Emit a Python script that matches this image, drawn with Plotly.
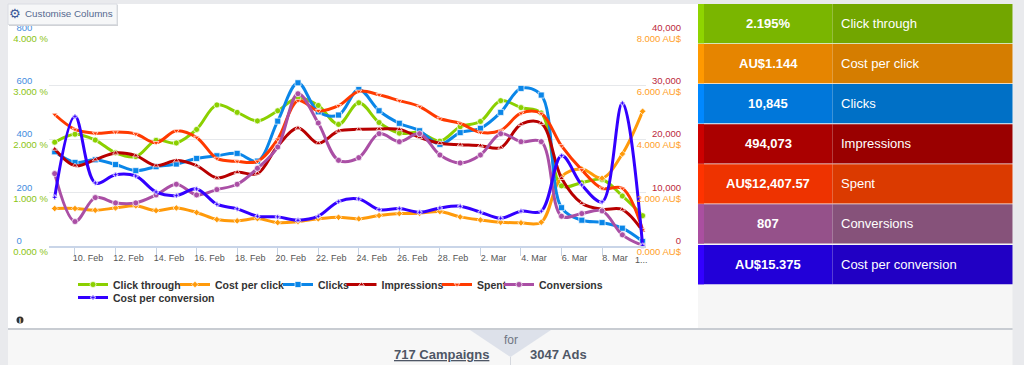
import plotly.graph_objects as go

dates = ["2013-02-%02d" % d for d in range(9, 29)] + ["2013-03-%02d" % d for d in range(1, 11)]
tick_dates = ["2013-02-10","2013-02-12","2013-02-14","2013-02-16","2013-02-18","2013-02-20","2013-02-22",
              "2013-02-24","2013-02-26","2013-02-28","2013-03-02","2013-03-04","2013-03-06","2013-03-08"]
tick_labels = ["10. Feb","12. Feb","14. Feb","16. Feb","18. Feb","20. Feb","22. Feb",
               "24. Feb","26. Feb","28. Feb","2. Mar","4. Mar","6. Mar","8. Mar"]
ctr_ticks = ["0.000 %","1.000 %","2.000 %","3.000 %","4.000 %"]
cpc_ticks = ["0.000 AU$","2.000 AU$","4.000 AU$","6.000 AU$","8.000 AU$"]
clicks_ticks = ["0","200","400","600","800"]
impr_ticks = ["0","10,000","20,000","30,000","40,000"]

click_through = [1.94,2.09,1.98,1.74,1.67,1.975,1.925,2.18,2.64,2.5,2.34,2.53,2.775,2.63,2.275,2.68,2.31,2.11,2.12,1.96,2.23,2.33,2.72,2.59,2.49,1.12,1.18,1.24,0.93,0.56]
cost_per_click = [1.39,1.39,1.325,1.41,1.49,1.31,1.41,1.24,0.975,0.925,1.01,0.86,0.90,1.0,1.06,1.0,1.125,1.2,1.21,1.275,1.075,0.96,0.875,0.85,0.875,2.59,2.875,2.525,3.44,5.04]
clicks = [352,312,322,304,281,296,306,327,337,346,317,467,611,502,490,586,506,459,431,380,424,440,500,590,565,142,95,86,65,15]
impressions = [18125,15000,16125,17375,16875,15000,15940,15000,12690,13750,13500,18690,22060,19190,21500,21810,21875,21810,20310,19190,18940,18750,18375,22750,22940,12625,7940,6810,6750,2750]
spent = [492,436,422,426,419,386,431,406,327,316,316,399,544,506,525,579,566,544,522,477,459,425,432,497,496,374,284,215,215,59]
conversions = [27,9,18,16,16,19,23,19,21,23,29,37,57,46,32,33,42,39,42,34,31,34,42,39,39,11,12,13,4,0]
cost_per_conversion = [18.1,48.5,23.5,26.6,26.1,20.1,18.75,21.25,15.5,13.75,11,10.75,9.5,11,16.5,17.5,13.5,13.9,12.5,14.1,14.75,12.5,10.25,12.9,12.9,33.75,22.75,16.4,53.5,0]

names = ["Click through","Cost per click","Clicks","Impressions","Spent","Conversions","Cost per conversion"]
totals = ["2.195%","AU$1.144","10,845","494,073","AU$12,407.57","807","AU$15.375"]
series = [click_through,cost_per_click,clicks,impressions,spent,conversions,cost_per_conversion]
colors = ["#8BD000","#FF9A0A","#0A86E8","#B80000","#FF3A00","#AA4FA5","#3300FF"]
symbols = ["circle","diamond","square","triangle-up","triangle-down","circle","cross"]
marker_sizes = [6,5,6,5,5,6,4]
axis_ranges = [[0,4],[0,8],[0,800],[0,40000],[0,800],[0,80],[0,80]]
stripe = ["#8FD400","#FF9900","#0088FF","#CC0000","#FF3300","#AA4FA0","#3300FF"]
left_fill = ["#7AB600","#E68500","#0077DA","#AA0000","#EE3300","#95518A","#2200D8"]
right_fill = ["#72A600","#D57D00","#0070C6","#9A0000","#DB3A00","#86527A","#2100C4"]

W, H = 1024, 365
def X(p): return p / W
def Y(p): return 1 - p / H

L, R, T, B = 49, 646, 32.5, 245.5
legend_pos = [(73,284.5),(175,284.5),(278,284.5),(341.5,284.5),(437,284.5),(499,284.5),(73,297.5)]

fig = go.Figure()
for i, (n, s, c) in enumerate(zip(names, series, colors)):
    fig.add_trace(go.Scatter(
        x=dates, y=s, name=n, mode="lines+markers", yaxis="y" if i == 0 else f"y{i+1}", showlegend=True,
        line=dict(color=c, width=3, shape="spline", smoothing=1.0),
        marker=dict(color=c, symbol=symbols[i], size=marker_sizes[i], line=dict(color="#FFFFFF", width=0.7)),
        legend="legend" if i == 0 else f"legend{i+1}", cliponaxis=False))

shapes, ann = [], []
def rect(x0, y0, x1, y1, fill, line=None, layer="below", width=0):
    shapes.append(dict(type="rect", xref="paper", yref="paper", x0=X(x0), x1=X(x1), y0=Y(y0), y1=Y(y1),
                       fillcolor=fill, layer=layer, line=dict(color=line or fill, width=width)))
def text(x, y, s, size=11, color="#333333", anchor="center", bold=False, family="Liberation Sans"):
    ann.append(dict(xref="paper", yref="paper", x=X(x), y=Y(y), text=f"<b>{s}</b>" if bold else s, showarrow=False,
                    xanchor=anchor, yanchor="middle", font=dict(size=size, color=color, family=family),
                    borderpad=0, borderwidth=0))

rect(8, 4, 698, 328, "#FFFFFF")
rect(698, 4, 1012.5, 328, "#F6F6F6")
rect(8, 330, 1012.5, 365, "#F7F7F7")
rect(8, 328, 1012.5, 330, "#C8CCD2")

tops = [4, 44, 84, 124.3, 164.3, 204.3, 245]
for i, t in enumerate(tops):
    rect(698, t, 832.5, t + 39.3, left_fill[i])
    rect(832.5, t, 1012.5, t + 39.3, right_fill[i])
    rect(698, t, 704, t + 39.3, stripe[i])
    text(768, t + 19.5, totals[i], size=13, color="#FFFFFF", bold=True)
    text(841, t + 19.5, names[i], size=13, color="#FFFFFF", anchor="left")

# "for" notch and campaign counts
shapes.append(dict(type="path", xref="paper", yref="paper", layer="below",
                   path=f"M {X(470)} {Y(330)} L {X(551)} {Y(330)} L {X(510.5)} {Y(357)} Z",
                   fillcolor="#DDE1EA", line=dict(width=0)))
shapes.append(dict(type="line", xref="paper", yref="paper", layer="below", x0=X(510.5), x1=X(510.5), y0=Y(357), y1=Y(365),
                   line=dict(color="#D5D8DE", width=1)))
text(510.5, 340, "for", size=12, color="#6F7683")
text(441.5, 354, "<u>717 Campaigns</u>", size=13, color="#4E5665", bold=True)
text(558, 354, "3047 Ads", size=13, color="#4E5665", bold=True)

# info icon
shapes.append(dict(type="circle", xref="paper", yref="paper", layer="below", x0=X(16.5), x1=X(23.5), y0=Y(323.5), y1=Y(316.5),
                   fillcolor="#333333", line=dict(width=0)))
text(20, 320, "i", size=7, color="#FFFFFF", bold=True)

# Customise button
rect(9, 5, 118, 26, "#D0D2D6", layer="above")
rect(8, 4, 117, 24.5, "#F6F7F8", line="#DADDE2", layer="above", width=1)
text(15, 13.5, "⚙", size=13, color="#3B5998", family="DejaVu Sans")
text(25, 13.5, "Customise Columns", size=9.8, color="#55698F", anchor="left")

# truncated last date label
text(641.5, 259.5, "1...", size=9, color="#555555", anchor="center")

dom_x = [X(L), X(R)]
dom_y = [Y(B), Y(T)]
fig.update_layout(
    width=W, height=H, margin=dict(l=0, r=0, t=0, b=0), paper_bgcolor="#E9EAED", plot_bgcolor="rgba(0,0,0,0)",
    font=dict(family="Liberation Sans", size=9, color="#555555"), showlegend=True,
    shapes=shapes, annotations=ann, hovermode=False,
    xaxis=dict(type="date", domain=dom_x, range=["2013-02-08 17:15", "2013-03-10 04:00"],
               tickvals=tick_dates, ticktext=tick_labels, ticks="outside", ticklen=8, tickcolor="#C5D2E4", tickwidth=1,
               ticklabelshift=13, ticklabelstandoff=-5, showgrid=False, showline=True, linecolor="#C9D5E8", linewidth=2, zeroline=False,
               tickfont=dict(size=9, color="#555555"), fixedrange=True, automargin=False, anchor="y"),
    yaxis=dict(domain=dom_y, range=axis_ranges[0], tickvals=[0,1,2,3,4], ticktext=ctr_ticks,
               gridcolor="#E6E8EB", gridwidth=1, zeroline=False, ticklabelshift=6, showline=False,
               tickfont=dict(size=9.5, color="#8CC414"), automargin=False, fixedrange=True),
)
def extra(i, **kw):
    base = dict(domain=dom_y, range=axis_ranges[i], overlaying="y", showgrid=False, zeroline=False, fixedrange=True,
                automargin=False, showline=False, ticks="")
    base.update(kw)
    fig.update_layout({f"yaxis{i+1}": base})
extra(1, side="right", anchor="free", position=X(684), ticklabelposition="inside", ticklabeloverflow="allow",
      tickvals=[0,2,4,6,8], ticktext=cpc_ticks, ticklabelshift=6, tickfont=dict(size=9.5, color="#FFA028"))
extra(2, side="left", anchor="free", position=X(12.5), ticklabelposition="inside", ticklabeloverflow="allow",
      tickvals=[0,200,400,600,800], ticktext=clicks_ticks, ticklabelshift=-5, tickfont=dict(size=9.5, color="#3F8DE0"))
extra(3, side="right", anchor="free", position=X(684), ticklabelposition="inside", ticklabeloverflow="allow",
      tickvals=[0,10000,20000,30000,40000], ticktext=impr_ticks, ticklabelshift=-5, tickfont=dict(size=9.5, color="#BC2A3C"))
for i in (4, 5, 6):
    extra(i, visible=False)

for i, (lx, ly) in enumerate(legend_pos):
    key = "legend" if i == 0 else f"legend{i+1}"
    fig.update_layout({key: dict(x=X(lx), y=Y(ly), xanchor="left", yanchor="middle", bgcolor="rgba(0,0,0,0)", visible=True,
                                 itemwidth=30, font=dict(size=10.5, color="#333333", family="Liberation Sans", weight="bold"),
                                 itemclick=False, itemdoubleclick=False)})

fig.write_html("out.html", config=dict(displayModeBar=False), post_script="document.body.style.margin='0';")
